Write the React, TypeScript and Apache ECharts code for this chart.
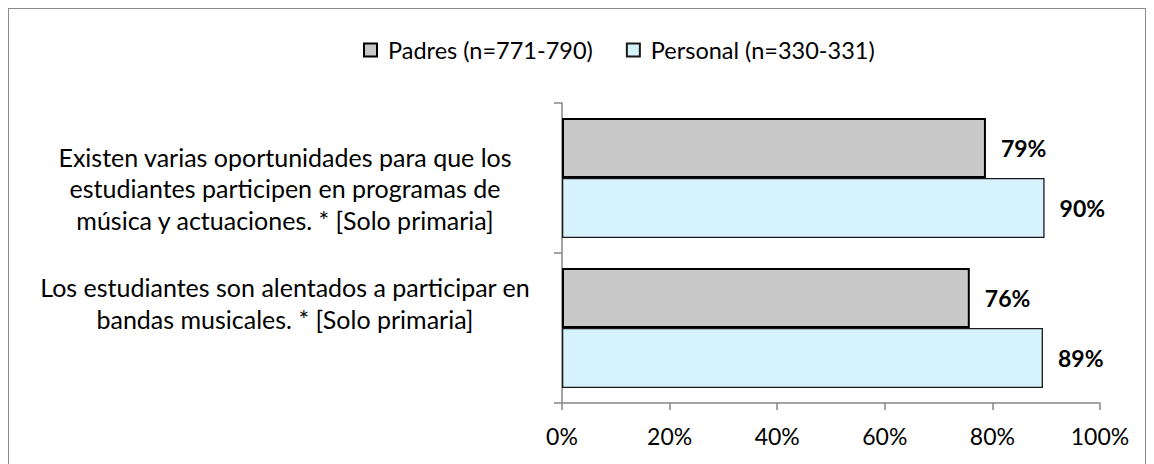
import React, { useEffect, useRef } from "react";
import * as echarts from "echarts";

const categories = [
  "Existen varias oportunidades para que los\nestudiantes participen en programas de\nmúsica y actuaciones. * [Solo primaria]",
  "Los estudiantes son alentados a participar en\nbandas musicales. * [Solo primaria]",
];
const seriesNames = ["Padres (n=771-790)", "Personal (n=330-331)"];
const padresValues = [78.8, 75.8];
const personalValues = [89.7, 89.4];
const xTicks = [0, 20, 40, 60, 80, 100];

const FONT = "Lato";

export default function App() {
  const ref = useRef<HTMLDivElement>(null);
  useEffect(() => {
    if (!ref.current) return;
    const chart = echarts.init(ref.current, undefined, { renderer: "svg" });
    const barLabel = {
      show: true,
      position: "right",
      distance: 15,
      formatter: (p: any) => Math.round(p.value) + "%",
      fontFamily: FONT,
      fontSize: 23,
      fontWeight: "bold",
      color: "#000",
    };
    chart.setOption({
      animation: false,
      backgroundColor: "#fff",
      legend: {
        left: 349,
        top: 24,
        itemWidth: 13,
        itemHeight: 13,
        itemGap: 33,
        icon: "rect",
        textStyle: { fontFamily: FONT, fontSize: 23.5, color: "#000", padding: [0, 0, 0, 6] },
        data: seriesNames,
      },
      grid: { left: 553, top: 94, width: 538, height: 300, outerBoundsMode: "none" },
      xAxis: {
        type: "value",
        min: xTicks[0],
        max: xTicks[xTicks.length - 1],
        interval: 20,
        axisLine: { show: true, lineStyle: { color: "#868686", width: 1.5 } },
        axisTick: { show: true, length: 7, lineStyle: { color: "#868686", width: 1.5 } },
        splitLine: { show: false },
        axisLabel: {
          formatter: "{value}%",
          fontFamily: FONT,
          fontSize: 23,
          color: "#000",
          margin: 21,
        },
      },
      yAxis: {
        type: "category",
        inverse: true,
        data: categories,
        axisLine: { show: true, lineStyle: { color: "#868686", width: 1.5 } },
        axisTick: { show: true, length: 8, lineStyle: { color: "#868686", width: 1.5 } },
        axisLabel: {
          interval: 0,
          align: "center",
          margin: 277,
          fontFamily: FONT,
          fontSize: 25,
          lineHeight: 31.5,
          color: "#000",
          formatter: (value: string, index: number) =>
            index === 0 ? "{s| }\n" + value : value + "\n{t| }",
          rich: {
            s: { fontSize: 1, lineHeight: 20 },
            t: { fontSize: 1, lineHeight: 50 },
          },
        },
      },
      series: [
        {
          name: seriesNames[0],
          type: "bar",
          data: padresValues,
          barGap: "0%",
          barCategoryGap: "20%",
          itemStyle: { color: "#C8C8C8", borderColor: "#000", borderWidth: 2 },
          label: barLabel,
        },
        {
          name: seriesNames[1],
          type: "bar",
          data: personalValues,
          barGap: "0%",
          barCategoryGap: "20%",
          itemStyle: { color: "#D6F3FD", borderColor: "#1a1a1a", borderWidth: 1.3 },
          label: barLabel,
        },
      ],
    });
    return () => chart.dispose();
  }, []);
  return (
    <div style={{ width: 1136, height: 460, border: "1px solid #8c8c8c" }}>
      <div ref={ref} style={{ width: 1136, height: 460 }} />
    </div>
  );
}
